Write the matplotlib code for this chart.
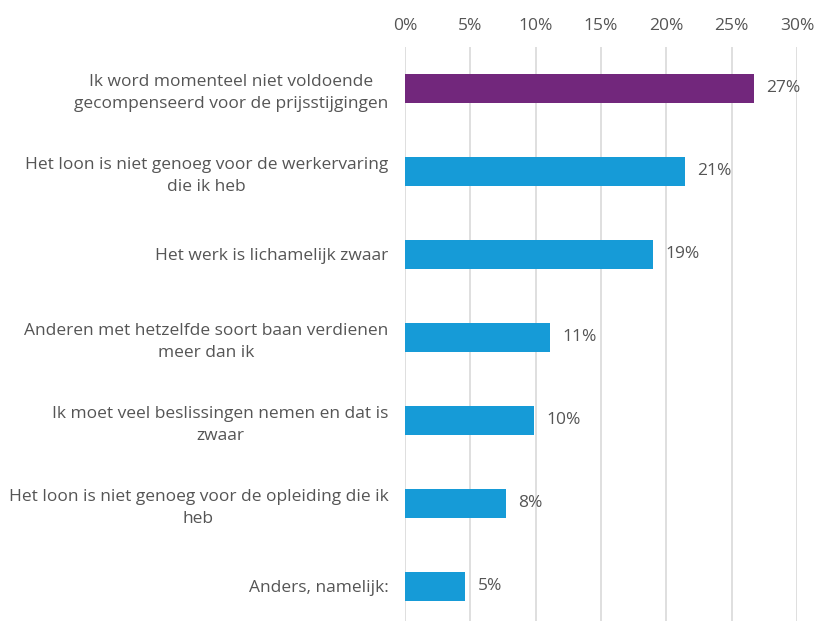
import matplotlib
matplotlib.use("Agg")
import matplotlib.pyplot as plt

categories = [
    "Ik word momenteel niet voldoende\ngecompenseerd voor de prijsstijgingen",
    "Het loon is niet genoeg voor de werkervaring\ndie ik heb",
    "Het werk is lichamelijk zwaar",
    "Anderen met hetzelfde soort baan verdienen\nmeer dan ik",
    "Ik moet veel beslissingen nemen en dat is\nzwaar",
    "Het loon is niet genoeg voor de opleiding die ik\nheb",
    "Anders, namelijk:",
]
values = [26.7, 21.4, 19.0, 11.1, 9.9, 7.7, 4.6]
value_labels = ["27%", "21%", "19%", "11%", "10%", "8%", "5%"]
xticks = [0, 5, 10, 15, 20, 25, 30]
xtick_labels = ["0%", "5%", "10%", "15%", "20%", "25%", "30%"]

purple = "#72277C"
blue = "#169BD7"
text_color = "#555555"

plt.rcParams['font.family'] = ['Open Sans', 'DejaVu Sans']

fig = plt.figure(figsize=(8.15, 6.21), dpi=100)
ax = fig.add_axes([405/815, 0, (797-405)/815, 1 - 47/621])

colors = [purple] + [blue] * (len(values) - 1)
ypos = list(range(len(values)))
ax.barh(ypos, values, height=0.36, color=colors, zorder=3)

ax.set_xlim(0, 30)
ax.set_ylim(6.416, -0.5)
ax.set_xticks(xticks)
ax.set_xticklabels(xtick_labels)
ax.xaxis.tick_top()
ax.tick_params(axis='x', length=0, pad=9, labelsize=12.5, labelcolor=text_color)
ax.set_yticks(ypos)
ax.set_yticklabels(categories, multialignment='center', linespacing=1.45)
ax.tick_params(axis='y', length=0, pad=12, labelsize=12.5, labelcolor=text_color)
ax.grid(axis='x', color='#D9D9D9', linewidth=1.2, zorder=0)
for s in ax.spines.values():
    s.set_visible(False)

for y, v, lab in zip(ypos, values, value_labels):
    ax.annotate(lab, xy=(v, y), xytext=(9, 0), textcoords='offset points',
                va='center', ha='left', fontsize=12.5, color=text_color)

fig.savefig("out.png", dpi=100)
